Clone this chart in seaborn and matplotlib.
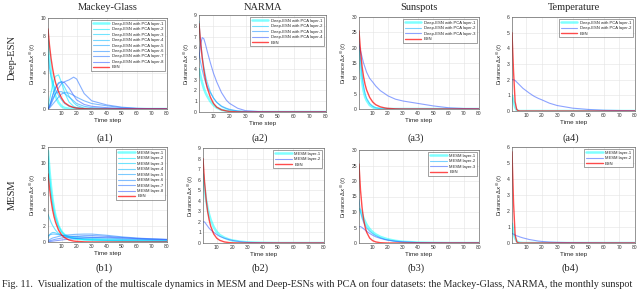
import matplotlib
matplotlib.use("Agg")
import matplotlib.pyplot as plt
import seaborn as sns
import pandas as pd
import numpy as np

steps = [1, 2, 3, 4, 5, 6, 8, 10, 12, 15, 18, 20, 25, 30, 40, 50, 60, 70, 80]

# (a1) Mackey-Glass, Deep-ESN with PCA
a1_esn = [8.8, 7.0, 5.6, 4.5, 3.6, 2.9, 1.9, 1.2, 0.7, 0.35, 0.17, 0.1, 0.03, 0, 0, 0, 0, 0, 0]
a1_layers = [
    [7.5, 5.5, 4.0, 2.8, 2.0, 1.4, 0.7, 0.3, 0.12, 0.03, 0, 0, 0, 0, 0, 0, 0, 0, 0],
    [0.3, 1.0, 1.8, 2.6, 3.2, 3.6, 3.75, 2.9, 1.8, 0.75, 0.3, 0.15, 0.05, 0, 0, 0, 0, 0, 0],
    [0.1, 0.4, 0.9, 1.5, 2.0, 2.4, 2.9, 3.0, 2.4, 1.4, 0.7, 0.4, 0.1, 0.03, 0, 0, 0, 0, 0],
    [6.0, 4.5, 3.6, 3.0, 2.5, 2.1, 1.5, 1.0, 0.6, 0.3, 0.15, 0.1, 0.03, 0, 0, 0, 0, 0, 0],
    [0, 0.3, 0.7, 1.1, 1.4, 1.7, 1.9, 1.9, 1.7, 1.3, 0.9, 0.6, 0.3, 0.15, 0.05, 0.02, 0, 0, 0],
    [0, 0.1, 0.3, 0.5, 0.7, 0.9, 1.3, 1.65, 1.8, 1.75, 1.5, 1.3, 0.9, 0.6, 0.35, 0.15, 0.05, 0.02, 0],
    [0, 0.2, 0.5, 0.9, 1.3, 1.7, 2.3, 2.8, 3.0, 3.2, 3.5, 3.3, 1.7, 0.9, 0.45, 0.2, 0.08, 0.03, 0.01],
    [0, 0.3, 0.8, 1.4, 1.9, 2.3, 2.8, 3.0, 2.9, 2.3, 1.5, 1.0, 0.5, 0.3, 0.15, 0.05, 0.02, 0, 0],
]

# (a2) NARMA
a2_esn = [8.2, 6.5, 5.0, 3.9, 3.0, 2.3, 1.4, 0.8, 0.45, 0.2, 0.1, 0.05, 0.01, 0, 0, 0, 0, 0, 0]
a2_layers = [
    [4.0, 3.3, 2.7, 2.2, 1.8, 1.5, 1.0, 0.65, 0.4, 0.2, 0.1, 0.06, 0.02, 0, 0, 0, 0, 0, 0],
    [8.4, 6.5, 5.2, 4.2, 3.4, 2.8, 1.9, 1.3, 0.9, 0.5, 0.3, 0.2, 0.07, 0.02, 0, 0, 0, 0, 0],
    [5.5, 4.6, 3.9, 3.3, 2.8, 2.4, 1.8, 1.3, 0.9, 0.55, 0.35, 0.25, 0.1, 0.03, 0, 0, 0, 0, 0],
    [5.0, 6.3, 6.9, 6.8, 6.3, 5.7, 4.6, 3.6, 2.8, 1.8, 1.1, 0.8, 0.35, 0.12, 0.02, 0, 0, 0, 0],
]

# (a3) Sunspots
a3_esn = [25.5, 19, 14, 10.5, 8, 6.2, 3.8, 2.3, 1.4, 0.7, 0.35, 0.2, 0.05, 0, 0, 0, 0, 0, 0]
a3_layers = [
    [19, 13, 9, 6, 4, 2.8, 1.3, 0.6, 0.25, 0.05, 0, 0, 0, 0, 0, 0, 0, 0, 0],
    [22, 16, 11, 7.5, 5, 3.5, 1.8, 0.9, 0.4, 0.1, 0.03, 0, 0, 0, 0, 0, 0, 0, 0],
    [21, 19, 17, 15, 13.5, 12, 10, 8.8, 7.5, 6, 5, 4.3, 3.2, 2.6, 1.8, 1.0, 0.4, 0.15, 0.05],
]

# (a4) Temperature
a4_esn = [5.0, 2.5, 0.6, 0.1, 0.02, 0, 0, 0, 0, 0, 0, 0, 0, 0, 0, 0, 0, 0, 0]
a4_layers = [
    [1.0, 0.6, 0.25, 0.05, 0, 0, 0, 0, 0, 0, 0, 0, 0, 0, 0, 0, 0, 0, 0],
    [2.0, 2.0, 1.95, 1.85, 1.75, 1.65, 1.45, 1.3, 1.15, 0.95, 0.8, 0.72, 0.5, 0.35, 0.18, 0.1, 0.05, 0.03, 0.02],
]

# (b1) Mackey-Glass, MESM
b1_esn = [8.6, 6.8, 5.3, 4.1, 3.2, 2.5, 1.5, 0.9, 0.55, 0.25, 0.12, 0.08, 0.02, 0, 0, 0, 0, 0, 0]
b1_layers = [
    [11.5, 9.0, 7.0, 5.4, 4.2, 3.3, 2.0, 1.3, 0.9, 0.6, 0.45, 0.4, 0.3, 0.25, 0.2, 0.15, 0.12, 0.1, 0.08],
    [10.8, 8.3, 6.4, 5.0, 3.9, 3.1, 2.0, 1.3, 0.9, 0.6, 0.45, 0.4, 0.3, 0.25, 0.2, 0.15, 0.12, 0.1, 0.08],
    [3.5, 3.0, 2.5, 2.1, 1.8, 1.5, 1.1, 0.85, 0.7, 0.6, 0.5, 0.45, 0.35, 0.3, 0.22, 0.18, 0.15, 0.12, 0.1],
    [0.5, 0.9, 1.1, 1.2, 1.2, 1.15, 1.0, 0.85, 0.75, 0.65, 0.6, 0.55, 0.5, 0.45, 0.38, 0.32, 0.28, 0.25, 0.22],
    [0.8, 0.9, 0.95, 1.0, 1.0, 0.98, 0.92, 0.85, 0.8, 0.75, 0.72, 0.7, 0.65, 0.6, 0.5, 0.42, 0.35, 0.3, 0.27],
    [0.2, 0.3, 0.4, 0.5, 0.55, 0.6, 0.7, 0.78, 0.85, 0.9, 0.95, 0.97, 1.0, 1.0, 0.85, 0.65, 0.5, 0.4, 0.33],
    [0.1, 0.15, 0.2, 0.25, 0.3, 0.35, 0.42, 0.5, 0.55, 0.62, 0.7, 0.73, 0.8, 0.82, 0.72, 0.58, 0.46, 0.38, 0.32],
    [0, 0.05, 0.08, 0.1, 0.13, 0.16, 0.2, 0.25, 0.3, 0.35, 0.42, 0.45, 0.52, 0.58, 0.6, 0.52, 0.43, 0.36, 0.3],
]

# (b2) NARMA
b2_esn = [8.0, 5.8, 4.2, 3.0, 2.2, 1.6, 0.85, 0.45, 0.25, 0.1, 0.04, 0.02, 0, 0, 0, 0, 0, 0, 0]
b2_layers = [
    [6.5, 5.2, 4.1, 3.3, 2.7, 2.2, 1.5, 1.05, 0.75, 0.5, 0.33, 0.25, 0.13, 0.06, 0.02, 0, 0, 0, 0],
    [2.0, 2.0, 1.8, 1.6, 1.4, 1.25, 1.0, 0.8, 0.62, 0.45, 0.32, 0.25, 0.13, 0.06, 0.02, 0, 0, 0, 0],
]

# (b3) Sunspots
b3_esn = [25.5, 17, 11.5, 7.7, 5.2, 3.5, 1.6, 0.75, 0.35, 0.1, 0.03, 0, 0, 0, 0, 0, 0, 0, 0]
b3_layers = [
    [11, 10.5, 9.3, 8, 6.9, 5.9, 4.5, 3.5, 2.8, 2.0, 1.5, 1.2, 0.7, 0.4, 0.15, 0.05, 0, 0, 0],
    [14, 10, 8, 6.7, 5.7, 4.9, 3.8, 3.0, 2.4, 1.7, 1.2, 1.0, 0.6, 0.35, 0.12, 0.04, 0, 0, 0],
    [5.2, 5.3, 5.0, 4.6, 4.2, 3.8, 3.1, 2.5, 2.0, 1.5, 1.1, 0.9, 0.55, 0.35, 0.12, 0.04, 0, 0, 0],
]

# (b4) Temperature
b4_esn = [5.7, 2.5, 0.5, 0.08, 0.01, 0, 0, 0, 0, 0, 0, 0, 0, 0, 0, 0, 0, 0, 0]
b4_layers = [
    [1.2, 0.6, 0.3, 0.12, 0.05, 0.02, 0, 0, 0, 0, 0, 0, 0, 0, 0, 0, 0, 0, 0],
    [0.6, 0.55, 0.5, 0.45, 0.42, 0.38, 0.32, 0.27, 0.22, 0.17, 0.12, 0.1, 0.06, 0.04, 0.02, 0.01, 0, 0, 0],
]

titles = ["Mackey-Glass", "NARMA", "Sunspots", "Temperature"]
sub_labels = ["(a1)", "(a2)", "(a3)", "(a4)", "(b1)", "(b2)", "(b3)", "(b4)"]
caption = ("Fig. 11.  Visualization of the multiscale dynamics in MESM and Deep-ESNs "
           "with PCA on four datasets: the Mackey-Glass, NARMA, the monthly sunspot")

sns.set_style("white")
plt.rcParams["font.family"] = ["Liberation Sans", "DejaVu Sans"]

W, H = 640, 290
fig = plt.figure(figsize=(6.4, 2.9), dpi=100)


def px_axes(l, t, r, b):
    return fig.add_axes([l / W, 1 - b / H, (r - l) / W, (b - t) / H])


panels = [
    # rect (px), esn, layers, ymax, ystep, legend prefix
    ((48, 18, 167, 109), a1_esn, a1_layers, 10, 2, "Deep-ESN with PCA layer-"),
    ((199, 15, 326, 112), a2_esn, a2_layers, 9, 1, "Deep-ESN with PCA layer-"),
    ((359, 17, 479, 109), a3_esn, a3_layers, 30, 5, "Deep-ESN with PCA layer-"),
    ((512, 17, 635, 111), a4_esn, a4_layers, 6, 1, "Deep-ESN with PCA layer-"),
    ((48, 147, 167, 242), b1_esn, b1_layers, 12, 2, "MESM layer-"),
    ((203, 148, 324, 243), b2_esn, b2_layers, 9, 1, "MESM layer-"),
    ((359, 150, 479, 243), b3_esn, b3_layers, 30, 5, "MESM layer-"),
    ((512, 147, 635, 243), b4_esn, b4_layers, 6, 1, "MESM layer-"),
]

c_start = np.array([0.0, 1.0, 1.0])
c_end = np.array([0.25, 0.4, 1.0])

for i, (rect, esn, layers, ymax, ystep, prefix) in enumerate(panels):
    ax = px_axes(*rect)
    n = len(layers)
    for k, vals in enumerate(layers):
        frac = k / max(n - 1, 1)
        col = tuple(c_start + (c_end - c_start) * frac)
        df = pd.DataFrame({"t": steps, "d": vals})
        sns.lineplot(data=df, x="t", y="d", ax=ax, color=col,
                     lw=1.8 if k == 0 else 0.8, alpha=0.5 if k == 0 else 0.6,
                     label=f"{prefix}{k + 1}")
    df = pd.DataFrame({"t": steps, "d": esn})
    sns.lineplot(data=df, x="t", y="d", ax=ax, color="red", lw=1.0,
                 alpha=0.7, label="ESN")

    ax.set_xlim(1, 80)
    ax.set_ylim(0, ymax)
    ax.set_xticks(range(10, 81, 10))
    ax.set_yticks(range(0, ymax + 1, ystep))
    ax.grid(True, color="#e4e4e4", lw=0.4)
    ax.tick_params(labelsize=3.6, length=1.2, width=0.3, direction="in",
                   pad=1.5, colors="#333333")
    for s in ax.spines.values():
        s.set_linewidth(0.4)
        s.set_color("#444444")
    ax.set_xlabel("Time step", fontsize=4.5, labelpad=1.5)
    ax.set_ylabel(r"Distance $\Delta x^{(l)}(t)$", fontsize=4.0, labelpad=1.5)
    leg = ax.legend(loc="upper right", fontsize=3.0, frameon=True,
                    fancybox=False, handlelength=4, labelspacing=0.35,
                    borderpad=0.4, borderaxespad=0.5, handletextpad=0.6)
    leg.get_frame().set_edgecolor("#333333")
    leg.get_frame().set_linewidth(0.4)

    cx = (rect[0] + rect[2]) / 2
    if i < 4:
        fig.text(cx / W, 1 - 7 / H, titles[i], ha="center", va="center",
                 fontsize=7.5, family="Liberation Serif")
        ly = 138
    else:
        ly = 268
    fig.text((cx - 3) / W, 1 - ly / H, sub_labels[i], ha="center",
             va="center", fontsize=7.5, family="Liberation Serif")

fig.text(12 / W, 1 - 58 / H, "Deep-ESN", rotation=90, ha="center",
         va="center", fontsize=7.5, family="Liberation Serif")
fig.text(12 / W, 1 - 195 / H, "MESM", rotation=90, ha="center",
         va="center", fontsize=7.5, family="Liberation Serif")
fig.text(2 / W, 1 - 284 / H, caption, ha="left", va="center",
         fontsize=7.3, family="Liberation Serif")

fig.savefig("out.png", dpi=100)
